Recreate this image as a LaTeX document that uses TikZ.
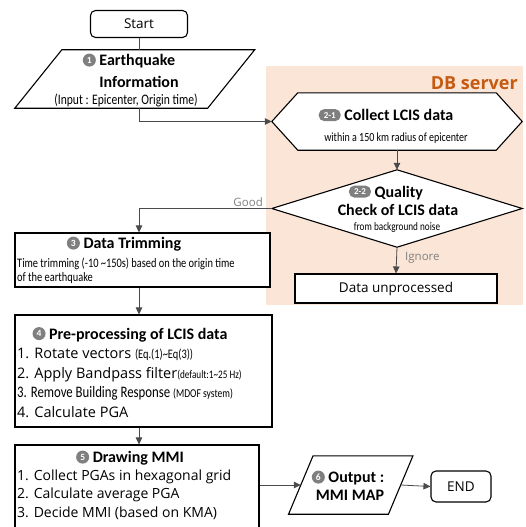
\documentclass[tikz,border=0pt]{standalone}
\usepackage{fontspec}
\setmainfont{Carlito}
\newfontfamily\osans{Open Sans}
\newfontfamily\condg[FakeStretch=0.8]{Carlito}
\usetikzlibrary{arrows.meta}
\definecolor{ln}{HTML}{4A4A4A}
\definecolor{lbl}{HTML}{808080}
\definecolor{shadec}{HTML}{FBE5D6}
\definecolor{dbc}{HTML}{C55A11}
\definecolor{badgec}{HTML}{7F7F7F}
\newcommand\fbold{\fontsize{16}{18}\selectfont\bfseries}
\newcommand\freg{\osans\fontsize{13.5}{16}\selectfont}
\newcommand\flist{\osans\fontsize{14}{16}\selectfont}
\newcommand\fplist{\osans\fontsize{14.5}{16}\selectfont}
\newcommand\badge[1]{\tikz[baseline={([yshift=-5.4pt]b.center)}]\node[circle,fill=badgec,text=white,inner sep=0pt,minimum size=13pt,font=\fontsize{9.5}{9.5}\selectfont\bfseries](b){#1};}
\newcommand\badgew[1]{\tikz[baseline={([yshift=-5.4pt]b.center)}]\node[rectangle,rounded corners=5.5pt,fill=badgec,text=white,inner ysep=0pt,inner xsep=1pt,minimum height=12pt,minimum width=22pt,font=\fontsize{9}{9}\selectfont\bfseries](b){#1};}
\tikzset{
  conn/.style={draw=ln, line width=0.8pt},
  arr/.style={conn, -{Triangle[length=7pt,width=6.5pt]}},
  shp/.style={draw=black, line width=1.1pt, fill=white},
  hold/.style={inner sep=0pt, rectangle},
  boxn/.style={draw=black, line width=1.1pt, fill=white, inner sep=0pt, rectangle},
  rbox/.style={boxn, rounded corners=5pt},
  lblt/.style={text=lbl, font=\osans\fontsize{11.5}{14}\selectfont, inner sep=0pt},
  tb/.style={font=\fbold, inner sep=0pt, anchor=base},
  tl/.style={font=\flist, inner sep=0pt, anchor=base west}
}
\begin{document}
\begin{tikzpicture}[x=1pt,y=-1pt]
\useasboundingbox (0,0) rectangle (525,527);
% DB server area
\fill[shadec] (266,66) rectangle (523,305);
\node[anchor=base east, font=\osans\fontsize{18}{20}\selectfont\bfseries, text=dbc, inner sep=0pt] (db) at (518,89) {DB server};

% Start
\node[rbox, minimum width=97pt, minimum height=27pt, font=\freg] (start) at (139,24) {Start};

% Earthquake information (parallelogram)
\node[hold, minimum width=192.5pt, minimum height=58pt] (eq) at (134.75,79) {};
\draw[shp] ([xshift=23.5pt]eq.north west) -- ([xshift=23.5pt]eq.north east) -- ([xshift=-23.5pt]eq.south east) -- ([xshift=-23.5pt]eq.south west) -- cycle;
\node[tb] (eqa) at (129,65.5) {\badge{1} Earthquake};
\node[tb] (eqb) at (139,87.5) {Information};
\node[font=\condg\fontsize{14.5}{15}\selectfont, inner sep=0pt, anchor=base] (eqc) at (126,104) {(Input : Epicenter, Origin time)};

% Collect LCIS (hexagon)
\node[hold, minimum width=250pt, minimum height=57pt] (hex) at (397,121.5) {};
\draw[shp] (hex.west) -- ([xshift=26pt]hex.north west) -- ([xshift=-26pt]hex.north east) -- (hex.east) -- ([xshift=-26pt]hex.south east) -- ([xshift=26pt]hex.south west) -- cycle;
\node[tb] (hexa) at (386,120.5) {\badgew{2-1} Collect LCIS data};
\node[font=\condg\fontsize{12.5}{13}\selectfont, inner sep=0pt, anchor=base] (hexb) at (396,141) {within a 150 km radius of epicenter};

% Quality check (diamond)
\node[hold, minimum width=250pt, minimum height=77pt] (dia) at (397,208.5) {};
\draw[shp] (dia.north) -- (dia.east) -- (dia.south) -- (dia.west) -- cycle;
\node[tb] (diaa) at (386,197) {\badgew{2-2} Quality};
\node[tb] (diab) at (398,215.5) {Check of LCIS data};
\node[font=\condg\fontsize{11.5}{12}\selectfont, inner sep=0pt, anchor=base] (diac) at (397,230.5) {from background noise};

% Data unprocessed
\node[boxn, minimum width=202pt, minimum height=29pt, font=\freg] (unp) at (396,288.5) {Data unprocessed};

% Data trimming
\node[boxn, minimum width=255pt, minimum height=54pt] (trim) at (142.5,260) {};
\node[tb] (trima) at (124,248.5) {\badge{3} Data Trimming};
\node[font=\condg\fontsize{13}{14}\selectfont, inner sep=0pt, anchor=base west] (trimb) at (17,267) {Time trimming (-10 \textasciitilde 150s) based on the origin time};
\node[font=\condg\fontsize{13}{14}\selectfont, inner sep=0pt, anchor=base west] (trimc) at (17,281.5) {of the earthquake};

% Pre-processing
\node[boxn, minimum width=257pt, minimum height=112pt] (pre) at (143.5,371) {};
\node[tb] (prea) at (130,339) {\badge{4} Pre-processing of LCIS data};
\node[tl, font=\fplist] (pre1) at (17,358) {1. Rotate vectors {\condg\fontsize{13}{13}\selectfont(Eq.(1)\textasciitilde Eq(3))}};
\node[tl, font=\fplist] (pre2) at (17,378) {2. Apply Bandpass filter{\condg\fontsize{11.5}{12}\selectfont(default:1\textasciitilde 25 Hz)}};
\node[tl, font=\condg\fontsize{16}{17}\selectfont] (pre3) at (17,397.5) {3. Remove Building Response {\fontsize{12}{12}\selectfont(MDOF system)}};
\node[tl, font=\fplist] (pre4) at (17,417) {4. Calculate PGA};

% Drawing MMI
\node[boxn, minimum width=244pt, minimum height=85pt] (drw) at (137,487.5) {};
\node[tb] (drwa) at (130,462.5) {\badge{5} Drawing MMI};
\node[tl] (drw1) at (17,480) {1. Collect PGAs in hexagonal grid};
\node[tl] (drw2) at (17,498.5) {2. Calculate average PGA};
\node[tl] (drw3) at (17,517) {3. Decide MMI (based on KMA)};

% Output (parallelogram)
\node[hold, minimum width=99.5pt, minimum height=58pt] (out) at (350.75,485) {};
\draw[shp] ([xshift=12.25pt]out.north west) -- ([xshift=12.25pt]out.north east) -- ([xshift=-12.25pt]out.south east) -- ([xshift=-12.25pt]out.south west) -- cycle;
\node[tb] (outa) at (348,482.5) {\badge{6} Output :};
\node[tb] (outb) at (350,500.5) {MMI MAP};

% END
\node[rbox, minimum width=60pt, minimum height=31pt, font=\freg] (endn) at (461,486.5) {END};

% connectors
\draw[conn] (start.south) -- (start.south |- eq.north);
\draw[arr] (eq.south -| start) |- (hex.west);
\draw[arr] (hex.south) -- (dia.north);
\draw[arr] (dia.south) -- (unp.north);
\draw[arr] (dia.west) -| (trim.north -| start);
\draw[arr] (trim.south -| start) -- (pre.north -| start);
\draw[arr] (pre.south -| start) -- (drw.north -| start);
\draw[arr] (out.west -| drw.east) -- (out.west);
\draw[arr] (out.east) -- (endn.west);

% labels
\node[lblt, anchor=base east] (good) at (263,206) {Good};
\node[lblt, anchor=base west] (ign) at (405,260) {Ignore};
\end{tikzpicture}
\end{document}
